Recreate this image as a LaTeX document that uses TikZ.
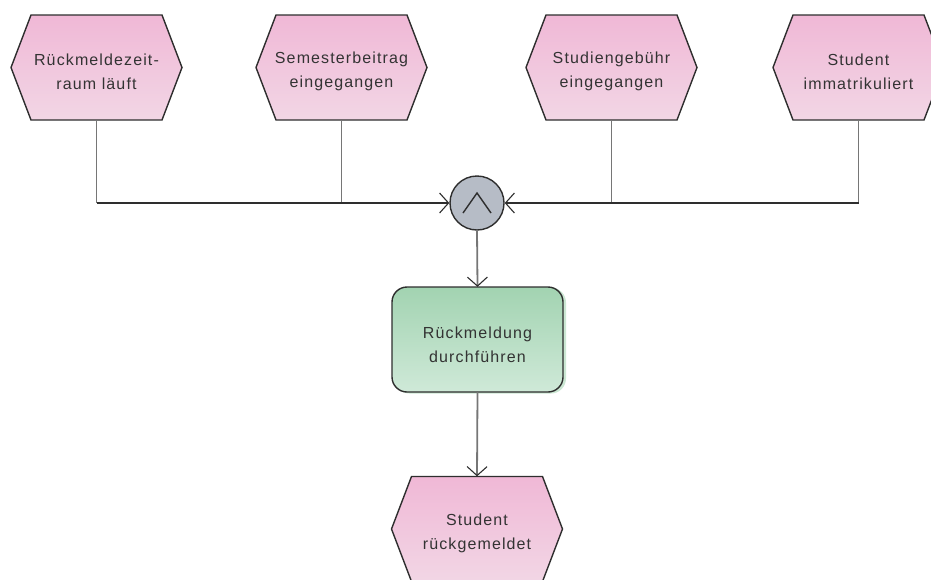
\documentclass[tikz,border=0pt]{standalone}
\usepackage{fontspec}
\setmainfont{Liberation Sans}[LetterSpace=7]
\usetikzlibrary{arrows.meta,calc}

\definecolor{edge}{HTML}{2E2E2E}
\definecolor{wire}{HTML}{767676}
\definecolor{ink}{HTML}{333333}
\definecolor{evtop}{HTML}{F0B8D6}
\definecolor{evbot}{HTML}{F2D6E5}
\definecolor{fntop}{HTML}{A2D3B1}
\definecolor{fnbot}{HTML}{CFE9D8}
\definecolor{fnshadow}{HTML}{CBE7D3}
\definecolor{opfill}{HTML}{B6BCC6}

\tikzset{
  boxtext/.style={align=center, text=ink, font=\fontsize{16}{24}\selectfont,
    minimum width=171pt, minimum height=105pt, inner sep=0pt},
  labeltext/.style={align=center, text=ink, font=\fontsize{16}{24}\selectfont, inner sep=0pt},
  evshape/.style={top color=evtop, bottom color=evbot, draw=edge, line width=1.4pt, line join=miter},
  hline/.style={draw=edge, line width=1.2pt},
  vline/.style={draw=wire, line width=1.8pt},
  tip/.style={-{Straight Barb[length=9pt,width=20pt,color=edge,line width=1.1pt]}},
}

% event hexagon: name, centre x, centre y, text
\newcommand\eventhex[4]{%
  \shade[evshape] ({#2-85.5},#3) -- ({#2-65.5},{#3-52.5}) -- ({#2+65.5},{#3-52.5})
    -- ({#2+85.5},#3) -- ({#2+65.5},{#3+52.5}) -- ({#2-65.5},{#3+52.5}) -- cycle;
  \node[boxtext] (#1) at (#2,#3) {};
  \node[labeltext] (#1-label) at ($(#1.center)+(0,4)$) {#4};
}

\begin{document}
\begin{tikzpicture}[x=1pt,y=-1pt]
  \useasboundingbox (0,0) rectangle (931,579);

  % events
  \eventhex{e1}{96.5}{67.5}{Rückmeldezeit-\\raum läuft}
  \eventhex{e2}{341.5}{67.5}{Semesterbeitrag\\eingegangen}
  \eventhex{e3}{611.5}{67.5}{Studiengebühr\\eingegangen}
  \eventhex{e4}{858.5}{67.5}{Student\\immatrikuliert}

  % AND connector
  \node[circle, minimum size=54pt, inner sep=0pt, fill=opfill, draw=edge, line width=1.4pt]
    (and) at (477,203) {};
  \draw[edge, line width=1.4pt] ($(and.center)+(-14,10)$) -- ($(and.center)+(0,-10)$) -- ($(and.center)+(14,10)$);

  % function
  \fill[fnshadow, rounded corners=15pt] (394.5,287.5) rectangle (566,393.5);
  \shade[top color=fntop, bottom color=fnbot, draw=edge, line width=1.4pt, rounded corners=15pt]
    (392,287) rectangle (563,392);
  \node[boxtext] (fn) at (477.5,339.5) {};
  \node[labeltext] (fn-label) at ($(fn.center)+(0,5)$) {Rückmeldung\\durchführen};

  % resulting event
  \eventhex{e5}{477}{529}{Student\\rückgemeldet}

  % incoming branches
  \draw[vline] (e1.south) -- (e1.south |- and.west);
  \draw[vline] (e2.south) -- (e2.south |- and.west);
  \draw[vline] (e3.south) -- (e3.south |- and.east);
  \draw[vline] (e4.south) -- (e4.south |- and.east);
  \draw[hline, tip] (e1.south |- and.west) -- (and.west);
  \draw[hline, tip] (e4.south |- and.east) -- (and.east);

  % flow downwards
  \draw[vline, tip] (and.south) -- (fn.north);
  \draw[vline, tip] (fn.south) -- (e5.north);
\end{tikzpicture}
\end{document}
